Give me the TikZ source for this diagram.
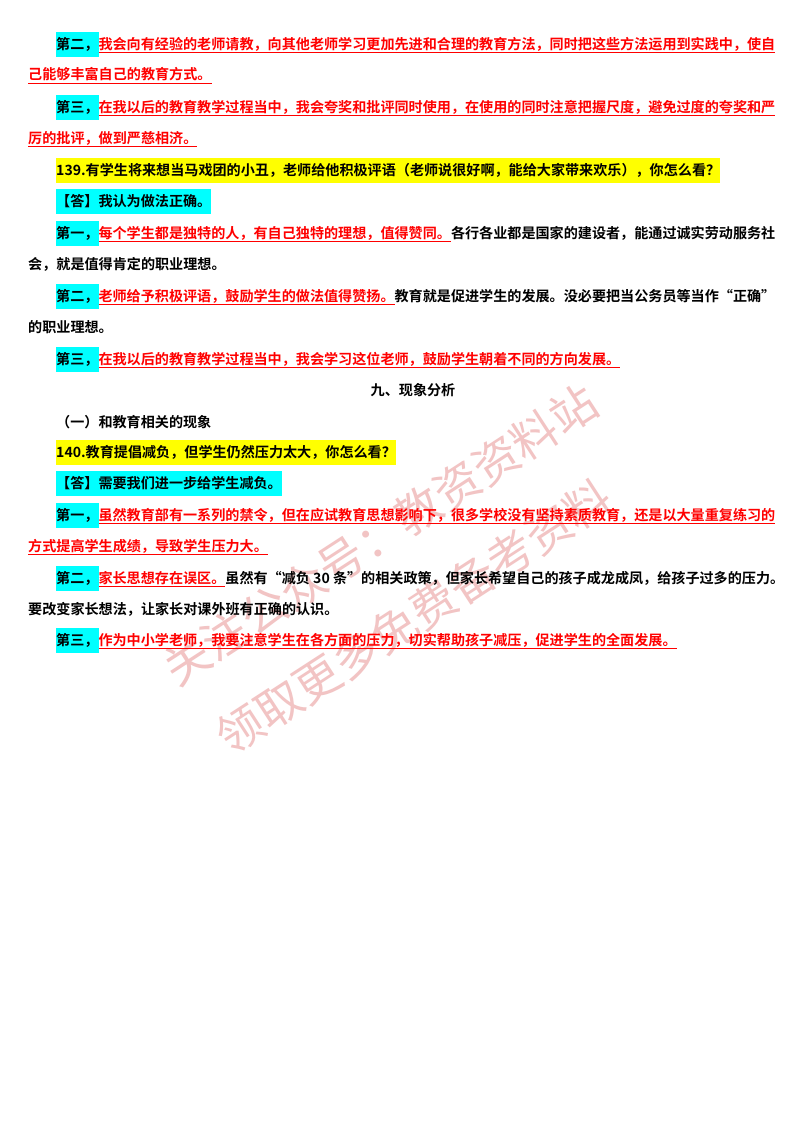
\documentclass[tikz,border=0pt]{standalone}
\usepackage{fontspec}
\setmainfont{Noto Sans CJK SC}[BoldFont={Noto Sans CJK SC Bold}]
\definecolor{hcyan}{HTML}{00FFFF}
\definecolor{hyel}{HTML}{FFFF00}
\definecolor{wm}{HTML}{F2C4C4}
\newcommand\hc[1]{{\setlength\fboxsep{0pt}\colorbox{hcyan}{\rule[-8pt]{0pt}{25pt}#1}}}
\newcommand\hy[1]{{\setlength\fboxsep{0pt}\colorbox{hyel}{\rule[-8pt]{0pt}{25pt}#1}}}
\newcommand\ru[1]{{\color{red}\underline{#1}}}
\tikzset{ln/.style={anchor=base west,inner sep=0pt,font=\fontsize{14.1}{16}\selectfont\bfseries},
 wmk/.style={text=wm,font=\fontsize{46}{50}\selectfont,rotate=33,inner sep=0pt}}
\begin{document}
\begin{tikzpicture}[x=1pt,y=-1pt]
\useasboundingbox[fill=white] (0,0) rectangle (800,1132);
\node[wmk] (w1) at (380,535) {关注公众号：教资资料站};
\node[wmk] (w2) at (414,617) {领取更多免费备考资料};
\node[ln] (l1) at (56,49) {\hc{第二，}\ru{我会向有经验的老师请教，向其他老师学习更加先进和合理的教育方法，同时把这些方法运用到实践中，使自}};
\node[ln] (l2) at (28,80) {\ru{己能够丰富自己的教育方式。}};
\node[ln] (l3) at (56,112) {\hc{第三，}\ru{在我以后的教育教学过程当中，我会夸奖和批评同时使用，在使用的同时注意把握尺度，避免过度的夸奖和严}};
\node[ln] (l4) at (28,143) {\ru{厉的批评，做到严慈相济。}};
\node[ln] (l5) at (56,175) {\hy{139.有学生将来想当马戏团的小丑，老师给他积极评语（老师说很好啊，能给大家带来欢乐），你怎么看？}};
\node[ln] (l6) at (56,206) {\hc{【答】我认为做法正确。}};
\node[ln] (l7) at (56,238) {\hc{第一，}\ru{每个学生都是独特的人，有自己独特的理想，值得赞同。}各行各业都是国家的建设者，能通过诚实劳动服务社};
\node[ln] (l8) at (28,269) {会，就是值得肯定的职业理想。};
\node[ln] (l9) at (56,301) {\hc{第二，}\ru{老师给予积极评语，鼓励学生的做法值得赞扬。}教育就是促进学生的发展。没必要把当公务员等当作“正确”};
\node[ln] (l10) at (28,332) {的职业理想。};
\node[ln] (l11) at (56,364) {\hc{第三，}\ru{在我以后的教育教学过程当中，我会学习这位老师，鼓励学生朝着不同的方向发展。}};
\node[ln,anchor=base] (l12) at (413,395) {九、现象分析};
\node[ln] (l13) at (56,427) {（一）和教育相关的现象};
\node[ln] (l14) at (56,457) {\hy{140.教育提倡减负，但学生仍然压力太大，你怎么看？}};
\node[ln] (l15) at (56,488) {\hc{【答】需要我们进一步给学生减负。}};
\node[ln] (l16) at (56,520) {\hc{第一，}\ru{虽然教育部有一系列的禁令，但在应试教育思想影响下，很多学校没有坚持素质教育，还是以大量重复练习的}};
\node[ln] (l17) at (28,551) {\ru{方式提高学生成绩，导致学生压力大。}};
\node[ln] (l18) at (56,583) {\hc{第二，}\ru{家长思想存在误区。}虽然有“减负 30 条”的相关政策，但家长希望自己的孩子成龙成凤，给孩子过多的压力。};
\node[ln] (l19) at (28,614) {要改变家长想法，让家长对课外班有正确的认识。};
\node[ln] (l20) at (56,645) {\hc{第三，}\ru{作为中小学老师，我要注意学生在各方面的压力，切实帮助孩子减压，促进学生的全面发展。}};
\end{tikzpicture}
\end{document}
